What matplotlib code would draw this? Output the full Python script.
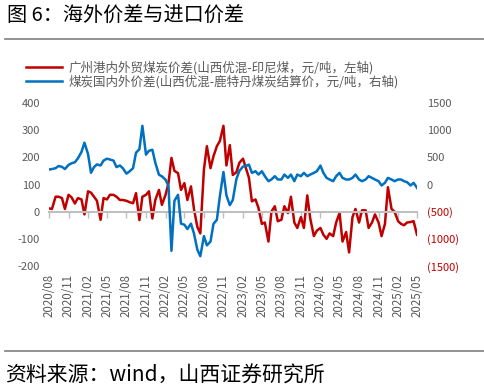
import matplotlib
matplotlib.use('Agg')
import matplotlib.pyplot as plt
import matplotlib.transforms as mtransforms
from matplotlib.lines import Line2D
import pandas as pd

plt.rcParams['font.family'] = ['Noto Sans CJK SC', 'DejaVu Sans']

# semi-monthly readings (1st / 15th), starting 2020-08-01
start_date = '2020-08-01'

# 广州港内外贸煤炭价差, 元/吨, left axis
port_spread = [
    12, 10, 55, 55, 50, 10, 62, 53, 30, 50,
    45, -10, 75, 70, 55, 40, -30, 50, 45, 62,
    62, 55, 43, 43, 40, 35, 31, 68, -31, 55,
    62, 75, -25, 43, 80, 25, 62, 105, 198, 150,
    142, 80, 105, 43, 93, 10, -56, -80, 155, 241,
    160, 204, 241, 260, 316, 170, 245, 135, 145, 180,
    195, 160, 125, 38, 45, 14, -45, -40, -110, 0,
    20, -35, -30, 20, -5, 55, -40, -60, -20, -60,
    60, -25, -90, -70, -60, -85, -100, -80, -90, -40,
    -5, -110, -75, -150, -20, 10, -40, 5, 5, -60,
    -40, -10, -40, -90, -45, 90, 10, 0, -35, -45,
    -50, -40, -38, -35, -85,
]

# 煤炭国内外价差, 元/吨, right axis
import_spread = [
    275, 285, 300, 340, 325, 285, 360, 390, 410, 480,
    600, 770, 560, 215, 320, 370, 350, 440, 475, 460,
    440, 320, 350, 300, 200, 240, 300, 585, 650, 1080,
    550, 620, 640, 400, 180, 150, 90, -25, -1220, -300,
    -190, -720, -740, -820, -720, -900, -1200, -1320, -950, -1120,
    -1050, -725, -650, -220, 230, -200, -380, -285, 100, 250,
    330, 340, 366, 214, 244, 183, 244, 153, 61, 92,
    153, 92, 92, 183, 122, 183, 61, 183, 153, 214,
    153, 183, 214, 244, 348, 214, 122, 92, 61, 153,
    214, 122, 92, 92, 122, 183, 92, 61, 92, 153,
    122, 92, 61, -18, 31, 122, 92, 61, 92, 92,
    61, 43, -18, 31, -61,
]

tick_labels = ['2020/08', '2020/11', '2021/02', '2021/05', '2021/08', '2021/11',
               '2022/02', '2022/05', '2022/08', '2022/11', '2023/02', '2023/05',
               '2023/08', '2023/11', '2024/02', '2024/05', '2024/08', '2024/11',
               '2025/02', '2025/05']
left_ticks = [-200, -100, 0, 100, 200, 300, 400]
right_ticks = [-1500, -1000, -500, 0, 500, 1000, 1500]

RED = '#C00000'
BLUE = '#0070C0'
GRAY = '#595959'

dates = pd.date_range(start_date, periods=len(port_spread), freq='SMS')
tick_dates = pd.to_datetime(tick_labels, format='%Y/%m')

W, H = 485, 392
fig = plt.figure(figsize=(W / 100, H / 100), dpi=100)
ax = fig.add_axes([49 / W, 1 - 266 / H, (417 - 49) / W, (266 - 103) / H])
ax2 = ax.twinx()

red_line, = ax.plot(dates, port_spread, color=RED, lw=1.8)
blue_line, = ax2.plot(dates, import_spread, color=BLUE, lw=1.8)

ax.set_xlim(tick_dates[0], tick_dates[-1])
ax.set_ylim(left_ticks[0], left_ticks[-1])
ax2.set_ylim(right_ticks[0], right_ticks[-1])

for a in (ax, ax2):
    for s in a.spines.values():
        s.set_visible(False)

# x axis crosses at 0 on the left scale
ax.spines['bottom'].set_visible(True)
ax.spines['bottom'].set_position(('data', 0))
ax.spines['bottom'].set_color('#BFBFBF')
ax.spines['bottom'].set_linewidth(1.5)
ax.set_xticks(tick_dates)
ax.tick_params(axis='x', direction='out', length=4, width=1, color='#BFBFBF',
               labelbottom=False)
trans = mtransforms.blended_transform_factory(ax.transData, ax.transAxes)
for d, lab in zip(tick_dates, tick_labels):
    ax.text(d, -0.05, lab, transform=trans, rotation=90, ha='center', va='top',
            fontsize=8.3, color=GRAY)

ax.set_yticks(left_ticks)
ax.set_yticklabels([str(v) for v in left_ticks])
ax.tick_params(axis='y', length=0, pad=6.5, labelsize=8, labelcolor=GRAY)

ax2.set_yticks(right_ticks)
ax2.set_yticklabels([f'({-v})' if v < 0 else str(v) for v in right_ticks])
ax2.tick_params(axis='y', length=0, pad=7, labelsize=8)
for v, t in zip(right_ticks, ax2.get_yticklabels()):
    t.set_color(RED if v < 0 else GRAY)

leg = fig.legend([red_line, blue_line],
                 ['广州港内外贸煤炭价差(山西优混-印尼煤，元/吨，左轴)',
                  '煤炭国内外价差(山西优混-鹿特丹煤炭结算价，元/吨，右轴)'],
                 loc='upper left', bbox_to_anchor=(26 / W, 1 - 61 / H),
                 frameon=False, fontsize=9, handlelength=2.9, handletextpad=0.5,
                 labelspacing=0.05, borderpad=0, borderaxespad=0)
for t in leg.get_texts():
    t.set_color(GRAY)

fig.text(7 / W, 1 - 16.5 / H, '图 6：海外价差与进口价差', fontsize=14.5,
         ha='left', va='center', color='black')
fig.add_artist(Line2D([5 / W, 1], [1 - 39 / H] * 2, color='#7F7F7F', lw=1.2))
fig.add_artist(Line2D([5 / W, 1], [1 - 351 / H] * 2, color='#7F7F7F', lw=1.2))
fig.text(5 / W, 1 - 376 / H, '资料来源：wind，山西证券研究所', fontsize=15,
         ha='left', va='center', color='black')

fig.savefig('out.png', dpi=100)
